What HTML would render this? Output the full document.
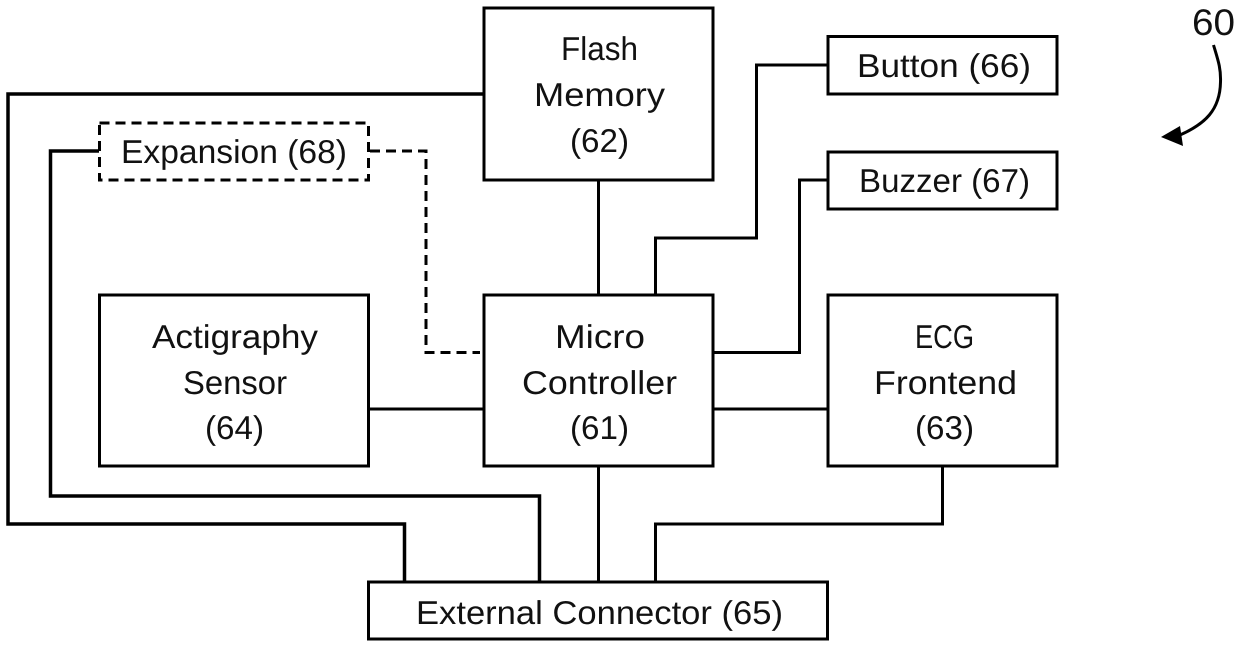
<!DOCTYPE html>
<html>
<head>
<meta charset="utf-8">
<style>
html,body{margin:0;padding:0;background:#fff;width:1240px;height:647px;overflow:hidden}
svg{display:block}
text{font-family:"Liberation Sans",sans-serif;font-size:33px;fill:#111;text-rendering:geometricPrecision}
</style>
</head>
<body>
<svg width="1240" height="647" viewBox="0 0 1240 647" xmlns="http://www.w3.org/2000/svg">
<g fill="none" stroke="#000" stroke-width="3">
<path d="M484 94H8V524H404.500V582" stroke-width="3.500"/>
<path d="M99 151H50.500V496H539.500V582" stroke-width="3.500"/>
<path d="M598.500 466V582"/>
<path d="M942.500 466V524H655.500V582"/>
<path d="M598.500 180V295"/>
<path d="M828 65H756.500V238H655.500V295"/>
<path d="M828 180H799.500V352.500H713"/>
<path d="M368 409H484"/>
<path d="M713 409H828"/>
<path d="M370 151H426V352.500H480" stroke-dasharray="10 6"/>
<rect x="484" y="8" width="229" height="172"/>
<rect x="484" y="295" width="229" height="171"/>
<rect x="99.500" y="295" width="269" height="171"/>
<rect x="828" y="295" width="229" height="171"/>
<rect x="828" y="36.500" width="229" height="57.500"/>
<rect x="828" y="152" width="229" height="57"/>
<rect x="99.500" y="123" width="269" height="57" stroke-dasharray="10 6"/>
<rect x="368.500" y="582" width="459" height="57"/>
<path d="M1213.500 45C1218 60 1221 68 1220.500 82C1220 110 1205 124 1180 135" stroke-width="3"/>
</g>
<path d="M1161 137L1180 126L1183 146Z" fill="#000"/>
<text x="561" y="60" textLength="77" lengthAdjust="spacingAndGlyphs">Flash</text>
<text x="534" y="106" textLength="131" lengthAdjust="spacingAndGlyphs">Memory</text>
<text x="570" y="152" textLength="59" lengthAdjust="spacingAndGlyphs">(62)</text>
<text x="857" y="77" textLength="174" lengthAdjust="spacingAndGlyphs">Button (66)</text>
<text x="859" y="192" textLength="171" lengthAdjust="spacingAndGlyphs">Buzzer (67)</text>
<text x="121" y="163" textLength="226" lengthAdjust="spacingAndGlyphs">Expansion (68)</text>
<text x="152" y="348" textLength="166" lengthAdjust="spacingAndGlyphs">Actigraphy</text>
<text x="183" y="394" textLength="104" lengthAdjust="spacingAndGlyphs">Sensor</text>
<text x="205" y="439" textLength="59" lengthAdjust="spacingAndGlyphs">(64)</text>
<text x="555" y="348" textLength="90" lengthAdjust="spacingAndGlyphs">Micro</text>
<text x="522" y="394" textLength="155" lengthAdjust="spacingAndGlyphs">Controller</text>
<text x="570" y="439" textLength="59" lengthAdjust="spacingAndGlyphs">(61)</text>
<text x="915" y="348" textLength="59" lengthAdjust="spacingAndGlyphs">ECG</text>
<text x="874" y="394" textLength="143" lengthAdjust="spacingAndGlyphs">Frontend</text>
<text x="915" y="439" textLength="59" lengthAdjust="spacingAndGlyphs">(63)</text>
<text x="416" y="624" textLength="367" lengthAdjust="spacingAndGlyphs">External Connector (65)</text>
<text x="1192" y="35" style="font-size:37px" textLength="43" lengthAdjust="spacingAndGlyphs">60</text>
</svg>
</body>
</html>
